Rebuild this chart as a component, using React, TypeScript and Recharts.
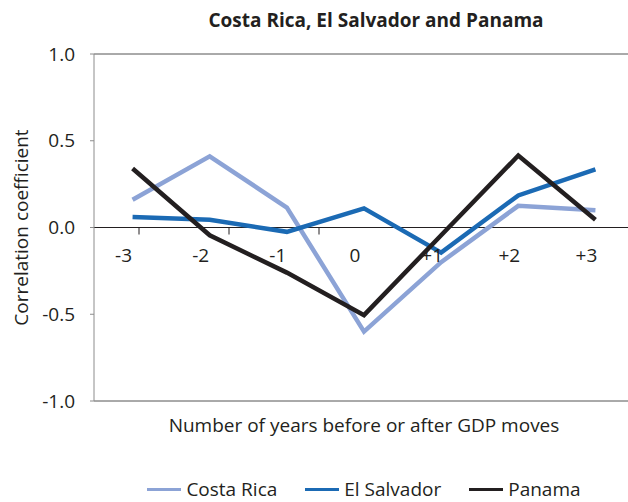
import { Legend, Line, LineChart, ReferenceLine, XAxis, YAxis } from "recharts"

// years relative to the GDP move, and the correlation for each country
const years = [-3, -2, -1, 0, 1, 2, 3]
const yearLabels = ["-3", "-2", "-1", "0", "+1", "+2", "+3"]
const costaRica = [0.16, 0.41, 0.115, -0.6, -0.2, 0.125, 0.1]
const elSalvador = [0.06, 0.045, -0.025, 0.11, -0.145, 0.185, 0.335]
const panama = [0.34, -0.045, -0.26, -0.505, -0.045, 0.415, 0.045]
const yTicks = [-1, -0.5, 0, 0.5, 1]
// tick marks on the zero line sit between the years
const yearBounds = [-2.5, -1.5, -0.5, 0.5, 1.5, 2.5]

const data = years.map((year, i) => ({
  year,
  costaRica: costaRica[i],
  elSalvador: elSalvador[i],
  panama: panama[i],
}))

const FONT = "'Open Sans', 'DejaVu Sans', sans-serif"
const TEXT = "#231f20"
const CHART_W = 640
const CHART_H = 502
const MARGIN = { top: 54, right: 6, bottom: 0, left: 0 }
const Y_AXIS_W = 94
const PLOT_H = 347
const ZERO_Y = MARGIN.top + PLOT_H / 2

function YearTick({ x, payload }: any) {
  const i = years.indexOf(payload?.value)
  if (i < 0) return null
  return (
    <text x={x - 9} y={ZERO_Y + 34} textAnchor="middle" fill={TEXT} fontSize={19} fontFamily={FONT}>
      {yearLabels[i]}
    </text>
  )
}

function BoundTick({ x, payload }: any) {
  if (!yearBounds.includes(payload?.value) || x < Y_AXIS_W) return null
  return <line x1={x} x2={x} y1={ZERO_Y} y2={ZERO_Y + 7} stroke={TEXT} strokeWidth={1} />
}

function renderLegend({ payload }: any) {
  return (
    <div
      style={{
        display: "flex",
        justifyContent: "center",
        gap: 28,
        height: 20,
        alignItems: "center",
        fontFamily: FONT,
        fontSize: 19,
        lineHeight: "20px",
        color: TEXT,
        whiteSpace: "nowrap",
      }}
    >
      {(payload || []).map((item: any) => (
        <div key={item.value} style={{ display: "flex", alignItems: "center", gap: 5 }}>
          <span style={{ display: "inline-block", width: 34, height: 3, background: item.color }} />
          <span>{item.value}</span>
        </div>
      ))}
    </div>
  )
}

export default function App() {
  return (
    <div
      style={{
        position: "fixed",
        left: 0,
        top: 0,
        width: 628,
        height: 502,
        overflow: "hidden",
        background: "#fff",
      }}
    >
      <div
        style={{
          position: "absolute",
          top: 7,
          left: 176,
          width: 400,
          textAlign: "center",
          fontFamily: FONT,
          fontWeight: 700,
          fontSize: 19,
          color: TEXT,
          whiteSpace: "nowrap",
        }}
      >
        Costa Rica, El Salvador and Panama
      </div>
      <LineChart width={CHART_W} height={CHART_H} data={data} margin={MARGIN}>
        <XAxis
          type="number"
          dataKey="year"
          domain={[-3.5, 3.5]}
          ticks={years}
          interval={0}
          axisLine={false}
          tickLine={false}
          tick={<YearTick />}
          height={80}
          label={{
            value: "Number of years before or after GDP moves",
            position: "insideTop",
            offset: 18,
            fill: TEXT,
            fontSize: 19,
            fontFamily: FONT,
          }}
        />
        <XAxis
          xAxisId="bounds"
          type="number"
          domain={[-3.5, 3.5]}
          ticks={yearBounds}
          interval={0}
          axisLine={false}
          tickLine={false}
          tick={<BoundTick />}
          height={1}
        />
        <YAxis
          domain={[-1, 1]}
          ticks={yTicks}
          interval={0}
          width={Y_AXIS_W}
          tickSize={4}
          tickMargin={15}
          tickFormatter={(v: number) => v.toFixed(1)}
          axisLine={{ stroke: "#8c8c8c" }}
          tickLine={{ stroke: "#8c8c8c" }}
          tick={{ fill: TEXT, fontSize: 19, fontFamily: FONT }}
          label={{
            value: "Correlation coefficient",
            angle: -90,
            position: "insideLeft",
            offset: 21,
            fill: TEXT,
            fontSize: 19,
            fontFamily: FONT,
            style: { textAnchor: "middle" },
          }}
        />
        <ReferenceLine y={1} stroke="#555" strokeWidth={1} />
        <ReferenceLine y={-1} stroke="#555" strokeWidth={1} />
        <ReferenceLine y={0} stroke={TEXT} strokeWidth={1} />
        <Line
          type="linear"
          dataKey="costaRica"
          name="Costa Rica"
          stroke="#8ca3d6"
          strokeWidth={4.5}
          dot={false}
          isAnimationActive={false}
        />
        <Line
          type="linear"
          dataKey="elSalvador"
          name="El Salvador"
          stroke="#1b6ab4"
          strokeWidth={4.5}
          dot={false}
          isAnimationActive={false}
        />
        <Line
          type="linear"
          dataKey="panama"
          name="Panama"
          stroke="#231f20"
          strokeWidth={4.5}
          dot={false}
          isAnimationActive={false}
        />
        <Legend
          verticalAlign="bottom"
          content={renderLegend}
          wrapperStyle={{ left: Y_AXIS_W, width: 540, bottom: 3 }}
        />
      </LineChart>
    </div>
  )
}
